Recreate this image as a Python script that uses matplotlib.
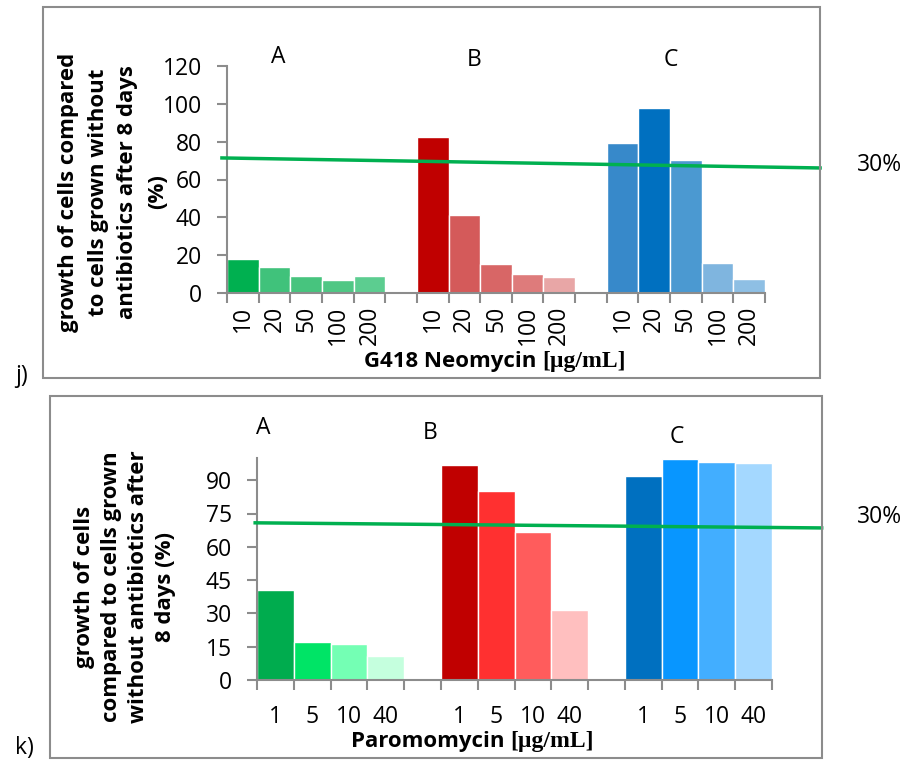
import matplotlib.pyplot as plt
from matplotlib.patches import Rectangle
from matplotlib.offsetbox import TextArea, HPacker, AnnotationBbox

plt.rcParams['font.family'] = ['Open Sans', 'DejaVu Sans']

# panel j) G418 Neomycin
neo_doses = ['10', '20', '50', '100', '200']
neo_a = [18.0, 13.8, 9.0, 6.9, 9.0]
neo_b = [82.5, 41.3, 15.5, 10.1, 8.5]
neo_c = [79.4, 97.9, 70.4, 15.9, 7.4]
neo_line_x = [-0.66, 18.24]
neo_line_y = [71.4, 66.1]

# panel k) Paromomycin
par_doses = ['1', '5', '10', '40']
par_a = [40.6, 17.2, 16.3, 10.9]
par_b = [96.7, 85.0, 66.6, 31.6]
par_c = [91.9, 99.4, 98.0, 97.6]
par_line_x = [-0.55, 14.85]
par_line_y = [70.8, 68.5]

groups = ['A', 'B', 'C']

neo_colors = [['#00B050', '#40C27B', '#47C47E', '#4FC784', '#5CCD90'],
              ['#C00000', '#D45A5A', '#D86666', '#DE7B7B', '#E8A6A6'],
              ['#3789CA', '#0070C0', '#4B99D1', '#7FB5DF', '#8EBFE4']]
par_colors = [['#00AC4E', '#00E466', '#74FFB4', '#C5FFDE'],
              ['#C00000', '#FF3030', '#FF5C5C', '#FFBFBF'],
              ['#0070C0', '#0896FF', '#42AEFF', '#A4D8FF']]

W, H = 908, 767
def fx(x):
    return x / W
def fy(y):
    return 1 - y / H

fig = plt.figure(figsize=(W / 100, H / 100), dpi=100)
gray = '#8C8C8C'
fs = 16.5

# outer frames
fig.patches.append(Rectangle((fx(43), fy(378)), fx(820) - fx(43), fy(7) - fy(378),
                             transform=fig.transFigure, fill=False, edgecolor=gray, lw=1.5))
fig.patches.append(Rectangle((fx(50), fy(758)), fx(822) - fx(50), fy(396) - fy(758),
                             transform=fig.transFigure, fill=False, edgecolor=gray, lw=1.5))


def draw_panel(ax, series, colors, doses, ymax, yticks, line_x, line_y, rot):
    n = len(doses)
    pos_labels = []
    positions = []
    for g, vals in enumerate(series):
        xs = [g * (n + 1) + i for i in range(n)]
        ax.bar(xs, vals, width=1.0, color=colors[g], edgecolor='white', linewidth=1)
        positions += xs
        pos_labels += doses
    total = 3 * n + 2
    ax.plot(line_x, line_y, color='#00B050', lw=2.5, clip_on=False, zorder=5)
    ax.set_xlim(-0.5, total - 0.5)
    ax.set_ylim(0, ymax)
    ax.set_yticks(yticks)
    ax.set_xticks(positions)
    ax.set_xticklabels(pos_labels, rotation=rot)
    ax.set_xticks([i - 0.5 for i in range(total + 1)], minor=True)
    ax.tick_params(axis='x', which='major', length=0, labelsize=fs,
                   pad=9 if rot else 18)
    ax.tick_params(axis='x', which='minor', length=7, width=1.5, color=gray)
    ax.tick_params(axis='y', length=7, width=1.5, color=gray, labelsize=fs, pad=11)
    for s in ['top', 'right']:
        ax.spines[s].set_visible(False)
    for s in ['left', 'bottom']:
        ax.spines[s].set_color(gray)
        ax.spines[s].set_linewidth(1.5)


ax1 = fig.add_axes([fx(227), fy(293), fx(765) - fx(227), fy(66) - fy(293)])
draw_panel(ax1, [neo_a, neo_b, neo_c], neo_colors, neo_doses, 120,
           [0, 20, 40, 60, 80, 100, 120], neo_line_x, neo_line_y, 90)

ax2 = fig.add_axes([fx(257), fy(680), fx(772) - fx(257), fy(458) - fy(680)])
draw_panel(ax2, [par_a, par_b, par_c], par_colors, par_doses, 100,
           [0, 15, 30, 45, 60, 75, 90], par_line_x, par_line_y, 0)

# group letters
for g, (x, y) in zip(groups, [(278, 57), (474, 60), (671, 60)]):
    fig.text(fx(x), fy(y), g, ha='center', va='center', fontsize=fs)
for g, (x, y) in zip(groups, [(263, 428), (430, 433), (677, 437)]):
    fig.text(fx(x), fy(y), g, ha='center', va='center', fontsize=fs)

# threshold labels
fig.text(fx(879), fy(165), '30%', ha='center', va='center', fontsize=fs)
fig.text(fx(879), fy(517), '30%', ha='center', va='center', fontsize=fs)

# panel labels
fig.text(fx(22), fy(376), 'j)', ha='center', va='center', fontsize=fs)
fig.text(fx(24), fy(748), 'k)', ha='center', va='center', fontsize=fs)

# y labels
fig.text(fx(113), fy(192),
         'growth of cells compared\nto cells grown without\nantibiotics after 8 days\n(%)',
         rotation=90, ha='center', va='center', multialignment='center',
         fontsize=16, fontweight='bold', linespacing=1.55)
fig.text(fx(125), fy(587),
         'growth of cells\ncompared to cells grown\nwithout antibiotics after\n8 days (%)',
         rotation=90, ha='center', va='center', multialignment='center',
         fontsize=16, fontweight='bold', linespacing=1.38)


# x labels: sans bold name + serif bold unit
def xlabel(name, x, y):
    box = HPacker(children=[
        TextArea(name + ' ', textprops=dict(fontsize=16, fontweight='bold')),
        TextArea('[µg/mL]', textprops=dict(fontsize=17, fontweight='bold',
                                            family='Liberation Serif'))],
        pad=0, sep=0, align='baseline')
    ab = AnnotationBbox(box, (fx(x), fy(y)), xycoords='figure fraction',
                        frameon=False, box_alignment=(0.5, 0.5))
    fig.add_artist(ab)


xlabel('G418 Neomycin', 495, 361)
xlabel('Paromomycin', 472, 741)

fig.savefig('out.png', dpi=100)
